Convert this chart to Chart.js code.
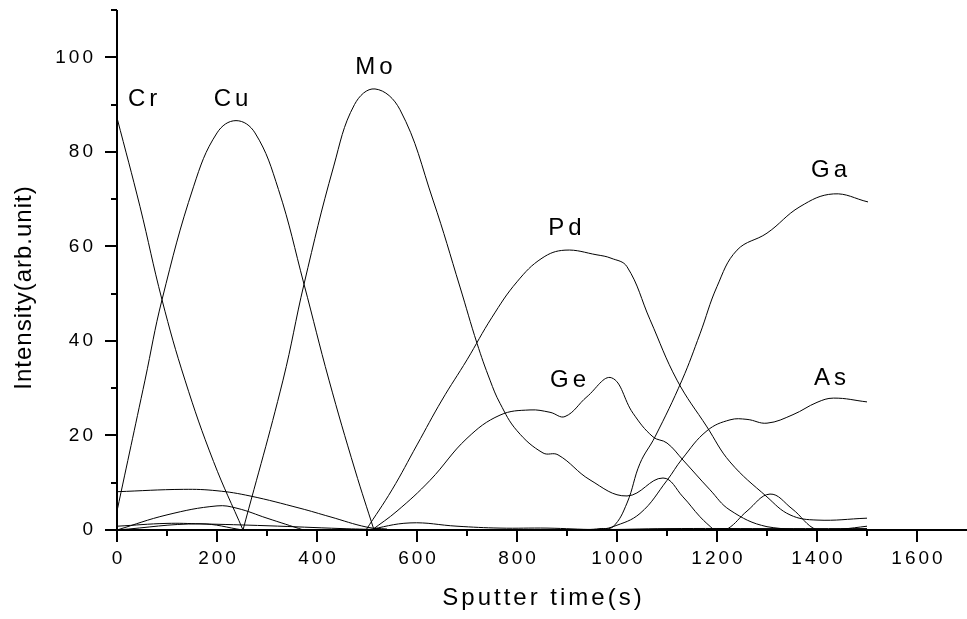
<!DOCTYPE html>
<html>
<head>
<meta charset="utf-8">
<title>Sputter depth profile</title>
<script src="https://cdn.jsdelivr.net/npm/chart.js@4.4.1/dist/chart.umd.min.js"></script>
<style>
  html, body { margin: 0; padding: 0; background: #fff; }
  canvas { display: block; }
</style>
</head>
<body>
<canvas id="depthProfile" width="967" height="619"></canvas>
<script>
'use strict';

// sputter time (s) / intensity (arb.unit)
const crTime = [0, 46, 90, 136, 193, 252];
const crSignal = [87.2, 68.4, 48.7, 31.7, 14.5, 0];

const cuTime = [0, 56, 90, 153, 200, 238, 276, 323, 374, 424, 476, 514];
const cuSignal = [4, 31.7, 48.7, 72.6, 84, 86.6, 84, 72, 52, 31.7, 12.7, 0];

const moTime = [252, 332, 374, 433, 475, 516, 566, 632, 686, 720, 746, 766, 800, 852, 882, 946, 1020, 1092, 1132, 1166, 1194];
const moSignal = [0, 31.7, 52, 76.8, 90, 93.3, 88.9, 69.8, 51.4, 39.5, 31.7, 26.8, 21, 16.3, 15.9, 10.6, 7.2, 11, 7, 2.8, 0];

const pdTime = [498, 550, 600, 650, 700, 750, 800, 850, 896, 960, 988, 1020, 1066, 1120, 1180, 1226, 1300, 1346, 1400, 1500];
const pdSignal = [0, 8.5, 18, 27.5, 36, 45, 52.5, 57.5, 59.2, 58.2, 57.5, 55.7, 44.5, 31.7, 21.8, 14.4, 7, 3.2, 2.1, 2.5];

const geTime = [510, 560, 626, 700, 766, 826, 866, 896, 940, 989, 1032, 1072, 1100, 1132, 1186, 1226, 1300, 1400, 1500];
const geSignal = [0, 4, 10.5, 19.4, 24.3, 25.4, 24.9, 24, 28.2, 32.2, 24.7, 19.7, 18.4, 14.8, 8.5, 4.2, 0.7, 0.1, 0.1];

const gaTime = [700, 940, 966, 992, 1020, 1046, 1076, 1130, 1166, 1200, 1240, 1300, 1366, 1433, 1502];
const gaSignal = [0, 0.1, 0.3, 0.7, 5.7, 14.1, 19.7, 31.7, 41.5, 51.5, 59.2, 62.8, 68.4, 71.1, 69.4];

const asTime = [960, 992, 1046, 1100, 1130, 1180, 1226, 1260, 1300, 1352, 1400, 1433, 1500];
const asSignal = [0, 0.7, 3.5, 10.5, 15, 21, 23.3, 23.4, 22.6, 24.4, 27, 27.9, 27.1];

// unlabelled low-level traces
const trace1Time = [0, 133, 200, 266, 366, 426, 500, 540];
const trace1Signal = [8.1, 8.6, 8.3, 7.2, 4.6, 2.8, 0.6, 0.2];
const trace2Time = [0, 100, 200, 240, 300, 373];
const trace2Signal = [0, 3.2, 5.1, 4.6, 2.5, 0];
const trace3Time = [0, 100, 166, 300, 450, 520];
const trace3Signal = [0.8, 1.4, 1.3, 0.9, 0.3, 0.1];
const trace4Time = [0, 166, 252];
const trace4Signal = [0, 1.3, 0];
const trace5Time = [500, 586, 680, 766, 860, 960, 1100, 1300, 1500];
const trace5Signal = [0, 1.5, 0.8, 0.4, 0.4, 0.1, 0.3, 0.3, 0.3];
const trace6Time = [1200, 1222, 1260, 1306, 1350, 1400, 1450, 1500];
const trace6Signal = [0, 0.3, 4, 7.6, 4.5, 0, 0.2, 0.8];

const xMajorTicks = [0, 200, 400, 600, 800, 1000, 1200, 1400, 1600];
const xMinorTicks = [100, 300, 500, 700, 900, 1100, 1300, 1500];
const yMajorTicks = [0, 20, 40, 60, 80, 100];
const yMinorTicks = [10, 30, 50, 70, 90, 110];

const elementNames = ['Cr', 'Cu', 'Mo', 'Pd', 'Ge', 'Ga', 'As'];

// where each element name sits, in data units
const nameAnchors = {
  Cr: { x: 22, y: 91, align: 'left' },
  Cu: { x: 228, y: 91, align: 'center' },
  Mo: { x: 514, y: 97.8, align: 'center' },
  Pd: { x: 896, y: 63.7, align: 'center' },
  Ge: { x: 902, y: 31.7, align: 'center' },
  Ga: { x: 1424, y: 76, align: 'center' },
  As: { x: 1426, y: 32, align: 'center' }
};

function toPoints(xs, ys) {
  return xs.map((x, i) => ({ x: x, y: ys[i] }));
}

function series(label, xs, ys) {
  return {
    label: label,
    data: toPoints(xs, ys),
    borderColor: '#000',
    borderWidth: 1,
    pointRadius: 0,
    fill: false,
    tension: 0.4
  };
}

const font = '"Liberation Sans", Arial, Helvetica, sans-serif';

function spacedText(ctx, text, x, y, spacing, align) {
  ctx.letterSpacing = spacing + 'px';
  const w = ctx.measureText(text).width - spacing;
  let left = x;
  if (align === 'center') left = x - w / 2;
  if (align === 'right') left = x - w;
  ctx.textAlign = 'left';
  ctx.fillText(text, left, y);
}

const axesPlugin = {
  id: 'originAxes',
  afterDraw(chart) {
    const ctx = chart.ctx;
    const area = chart.chartArea;
    const xs = chart.scales.x;
    const ys = chart.scales.y;

    ctx.save();
    ctx.strokeStyle = '#000';
    ctx.fillStyle = '#000';
    ctx.lineWidth = 2;

    ctx.beginPath();
    ctx.moveTo(area.left, area.top);
    ctx.lineTo(area.left, area.bottom);
    ctx.lineTo(area.right, area.bottom);
    ctx.stroke();

    ctx.beginPath();
    xMajorTicks.forEach(v => {
      const px = Math.round(xs.getPixelForValue(v));
      ctx.moveTo(px, area.bottom);
      ctx.lineTo(px, area.bottom + 12);
    });
    xMinorTicks.forEach(v => {
      const px = Math.round(xs.getPixelForValue(v));
      ctx.moveTo(px, area.bottom);
      ctx.lineTo(px, area.bottom + 6);
    });
    yMajorTicks.forEach(v => {
      const py = Math.round(ys.getPixelForValue(v));
      ctx.moveTo(area.left, py);
      ctx.lineTo(area.left - 12, py);
    });
    yMinorTicks.forEach(v => {
      const py = Math.round(ys.getPixelForValue(v));
      ctx.moveTo(area.left, py);
      ctx.lineTo(area.left - 6, py);
    });
    ctx.stroke();

    ctx.font = '19px ' + font;
    ctx.textBaseline = 'middle';
    xMajorTicks.forEach(v => {
      spacedText(ctx, String(v), xs.getPixelForValue(v), area.bottom + 29, 3, 'center');
    });
    yMajorTicks.forEach(v => {
      spacedText(ctx, String(v), area.left - 24, ys.getPixelForValue(v), 3, 'right');
    });

    ctx.font = '24px ' + font;
    spacedText(ctx, 'Sputter time(s)', (area.left + area.right) / 2, 598, 3, 'center');

    ctx.save();
    ctx.translate(24, 288);
    ctx.rotate(-Math.PI / 2);
    spacedText(ctx, 'Intensity(arb.unit)', 0, 0, 1, 'center');
    ctx.restore();

    elementNames.forEach(name => {
      const a = nameAnchors[name];
      spacedText(ctx, name, xs.getPixelForValue(a.x), ys.getPixelForValue(a.y), 4, a.align);
    });

    ctx.restore();
  }
};

const ctx = document.getElementById('depthProfile');

new Chart(ctx, {
  type: 'line',
  data: {
    datasets: [
      series('Cr', crTime, crSignal),
      series('Cu', cuTime, cuSignal),
      series('Mo', moTime, moSignal),
      series('Pd', pdTime, pdSignal),
      series('Ge', geTime, geSignal),
      series('Ga', gaTime, gaSignal),
      series('As', asTime, asSignal),
      series('trace 1', trace1Time, trace1Signal),
      series('trace 2', trace2Time, trace2Signal),
      series('trace 3', trace3Time, trace3Signal),
      series('trace 4', trace4Time, trace4Signal),
      series('trace 5', trace5Time, trace5Signal),
      series('trace 6', trace6Time, trace6Signal)
    ]
  },
  options: {
    responsive: false,
    animation: false,
    layout: {
      padding: { left: 117, top: 10, right: 0, bottom: 89 }
    },
    scales: {
      x: { type: 'linear', min: 0, max: 1700, display: false },
      y: { type: 'linear', min: 0, max: 110, display: false }
    },
    plugins: {
      legend: { display: false },
      tooltip: { enabled: false }
    }
  },
  plugins: [axesPlugin]
});
</script>
</body>
</html>
